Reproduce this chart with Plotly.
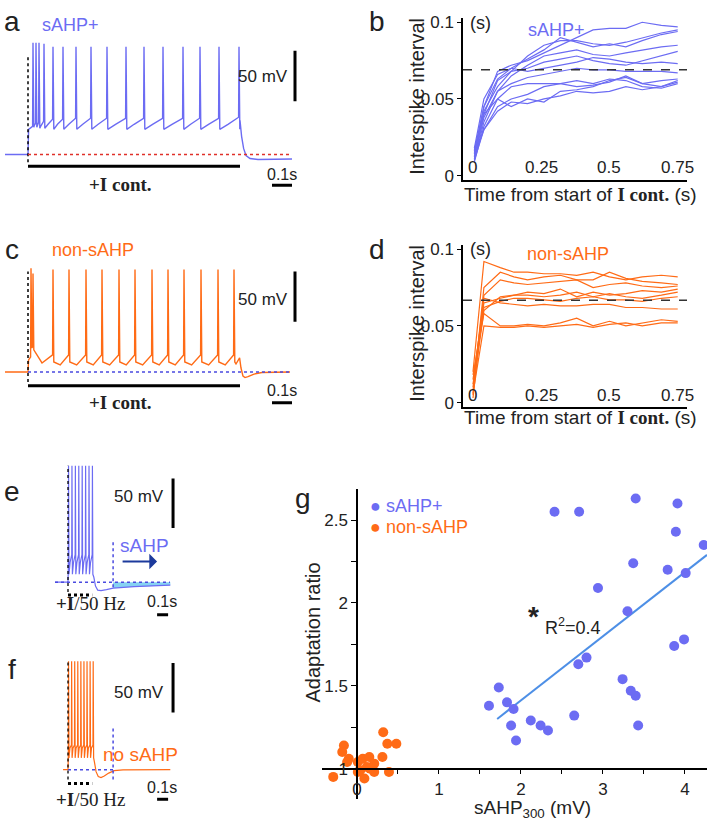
import plotly.graph_objects as go

W, H = 710, 825
BLUE = "#6c6cf3"
ORANGE = "#ff6b16"
CYAN = "#86d2f2"
DARKBLUE = "#1c3a9c"
FITBLUE = "#4d8fe6"
TXT = "#222222"
SANS = "Liberation Sans, Arial, sans-serif"
SERIF = "Liberation Serif, Times New Roman, serif"

# ---------------- data ----------------
# panel a (sAHP+ voltage trace), time in s, voltage in mV
a_rest = -70
a_on_v = -45
a_pre_t = -0.115
a_spk_t = [0.025, 0.04, 0.055, 0.08, 0.125, 0.175, 0.24, 0.315, 0.395, 0.49, 0.58, 0.675, 0.775, 0.86, 0.955, 1.055]
a_peak = [41, 41, 41, 40, 37, 37, 37, 37, 37, 37, 37, 37, 37, 37, 37, 37]
a_thr = [-42, -39, -38, -37, -35, -35, -34, -34, -34, -34, -34, -34, -34, -34, -34, -33]
a_ahp = [-43, -43, -44, -44, -45, -45, -45, -45, -45, -45, -45, -45, -45, -45, -45, -45]
a_mid = [-41, -41, -41, -40, -40, -40, -40, -40, -40, -40, -40, -40, -40, -40, -40]
a_tail_t = [1.06, 1.068, 1.078, 1.09, 1.11, 1.15, 1.32]
a_tail_v = [-36, -52, -64, -71, -74, -75, -74.5]

# panel c (non-sAHP voltage trace)
c_rest = -70
c_on_v = -58
c_pre_t = -0.115
c_spk_t = [0.015, 0.025, 0.125, 0.205, 0.29, 0.37, 0.455, 0.535, 0.62, 0.70, 0.78, 0.865, 0.95, 1.03]
c_peak = [33, 28, 32, 32, 32, 32, 32, 32, 32, 32, 32, 32, 32, 32]
c_thr = [-55, -45, -53, -53, -53, -53, -53, -53, -53, -53, -53, -53, -53, -53]
c_ahp = [-45, -48, -60, -60, -60, -60, -60, -60, -60, -60, -60, -60, -60, -60]
c_mid = [-46, -61, -63, -63, -63, -63, -63, -63, -63, -63, -63, -63, -63]
c_tail_t = [1.04, 1.058, 1.065, 1.075, 1.085, 1.1, 1.13, 1.17, 1.31]
c_tail_v = [-62, -56, -66, -74, -75.5, -74.5, -72, -70.5, -70]

# panel e (sAHP+, 50 Hz train)
e_rest = -70
e_on_v = -55
e_pre_t = -0.118
e_spk_t = [0.005, 0.036, 0.067, 0.098, 0.129, 0.16, 0.191, 0.222]
e_peak = [48, 48, 48, 48, 48, 48, 48, 48]
e_thr = [-50, -42, -42, -42, -42, -42, -42, -42]
e_ahp = [-62, -62, -62, -62, -62, -62, -62, -62]
e_mid = [-50, -50, -50, -50, -50, -50, -50]
e_tail_t = [0.235, 0.25, 0.27, 0.3, 0.35, 0.41, 0.6, 0.93]
e_tail_v = [-65, -74, -78, -78.5, -77.5, -76, -74.5, -73]
e_sahp_t = [0.41, 0.6, 0.93]
e_sahp_v = [-76, -74.5, -73]

# panel f (non-sAHP, 50 Hz train)
f_rest = -70
f_on_v = -55
f_pre_t = -0.045
f_spk_t = [0.005, 0.033, 0.061, 0.089, 0.117, 0.145, 0.173, 0.201, 0.229]
f_peak = [40, 40, 40, 40, 40, 40, 40, 40, 40]
f_thr = [-52, -45, -45, -45, -45, -45, -45, -45, -45]
f_ahp = [-58, -58, -58, -58, -58, -58, -58, -58, -58]
f_mid = [-48, -48, -48, -48, -48, -48, -48, -48]
f_tail_t = [0.24, 0.255, 0.275, 0.3, 0.33, 0.37, 0.42, 0.5, 0.93]
f_tail_v = [-62, -72, -77, -78, -76.5, -73.5, -71, -70.2, -70]

# panel b (ISI vs time, sAHP+)
b_t = [0.005, 0.04, 0.09, 0.14, 0.2, 0.26, 0.32, 0.38, 0.44, 0.5, 0.56, 0.62, 0.69, 0.75]
b_isi = [
    [0.015, 0.045, 0.068, 0.072, 0.075, 0.080, 0.085, 0.090, 0.095, 0.096, 0.096, 0.100, 0.098, 0.097],
    [0.012, 0.040, 0.062, 0.068, 0.078, 0.085, 0.088, 0.088, 0.086, 0.085, 0.087, 0.090, 0.093, 0.095],
    [0.018, 0.050, 0.066, 0.070, 0.076, 0.082, 0.090, 0.087, 0.084, 0.086, 0.084, 0.088, 0.092, 0.094],
    [0.010, 0.035, 0.055, 0.065, 0.072, 0.078, 0.080, 0.082, 0.079, 0.078, 0.080, 0.082, 0.084, 0.085],
    [0.014, 0.042, 0.058, 0.068, 0.070, 0.074, 0.076, 0.078, 0.075, 0.073, 0.072, 0.075, 0.078, 0.081],
    [0.016, 0.045, 0.063, 0.070, 0.068, 0.070, 0.072, 0.074, 0.077, 0.076, 0.074, 0.073, 0.074, 0.073],
    [0.011, 0.038, 0.055, 0.060, 0.064, 0.066, 0.068, 0.070, 0.069, 0.069, 0.068, 0.068, 0.068, 0.067],
    [0.009, 0.032, 0.050, 0.058, 0.060, 0.060, 0.060, 0.058, 0.059, 0.061, 0.065, 0.060, 0.058, 0.061],
    [0.013, 0.030, 0.045, 0.050, 0.053, 0.058, 0.060, 0.062, 0.060, 0.063, 0.062, 0.058, 0.057, 0.060],
    [0.010, 0.030, 0.042, 0.048, 0.047, 0.050, 0.052, 0.055, 0.054, 0.055, 0.058, 0.056, 0.058, 0.062],
    [0.017, 0.040, 0.050, 0.045, 0.050, 0.048, 0.055, 0.056, 0.058, 0.062, 0.064, 0.060, 0.062, 0.063],
]
b_ref = 0.069

# panel d (ISI vs time, non-sAHP)
d_t = [0.0, 0.04, 0.1, 0.15, 0.2, 0.26, 0.32, 0.38, 0.44, 0.5, 0.56, 0.62, 0.69, 0.75]
d_isi = [
    [0.020, 0.092, 0.088, 0.085, 0.085, 0.084, 0.084, 0.083, 0.085, 0.082, 0.080, 0.082, 0.083, 0.082],
    [0.005, 0.075, 0.085, 0.082, 0.080, 0.082, 0.083, 0.080, 0.080, 0.085, 0.081, 0.079, 0.078, 0.077],
    [0.010, 0.070, 0.080, 0.078, 0.077, 0.078, 0.079, 0.080, 0.075, 0.077, 0.078, 0.076, 0.075, 0.076],
    [0.015, 0.065, 0.068, 0.070, 0.072, 0.071, 0.074, 0.069, 0.072, 0.070, 0.071, 0.073, 0.072, 0.074],
    [0.008, 0.060, 0.069, 0.070, 0.070, 0.069, 0.070, 0.072, 0.069, 0.071, 0.069, 0.068, 0.070, 0.072],
    [0.012, 0.062, 0.066, 0.068, 0.068, 0.067, 0.066, 0.068, 0.069, 0.067, 0.067, 0.066, 0.068, 0.069],
    [0.003, 0.068, 0.065, 0.064, 0.063, 0.064, 0.063, 0.063, 0.064, 0.064, 0.062, 0.062, 0.061, 0.061],
    [0.018, 0.058, 0.050, 0.050, 0.051, 0.050, 0.052, 0.055, 0.050, 0.053, 0.050, 0.052, 0.054, 0.053],
    [0.006, 0.050, 0.049, 0.049, 0.050, 0.049, 0.050, 0.051, 0.049, 0.051, 0.052, 0.050, 0.052, 0.052],
]
d_ref = 0.0667

# panel g (adaptation ratio vs sAHP300)
g_pos_x = [2.41, 2.71, 3.40, 3.91, 3.89, 4.23, 3.37, 3.79, 4.01, 2.94, 3.30,
           3.87, 3.99, 2.80, 2.70, 3.24, 3.34, 3.40, 3.43, 2.65,
           1.73, 1.61, 1.83, 1.91, 1.88, 1.94, 2.12, 2.24, 2.33]
g_pos_y = [2.55, 2.55, 2.63, 2.60, 2.43, 2.35, 2.24, 2.20, 2.18, 2.09, 1.95,
           1.74, 1.78, 1.67, 1.63, 1.54, 1.47, 1.44, 1.26, 1.32,
           1.49, 1.38, 1.40, 1.36, 1.26, 1.17, 1.29, 1.26, 1.23]
g_non_x = [-0.29, -0.16, -0.18, -0.10, -0.12, 0.01, 0.07, 0.15, 0.21, 0.04,
           0.12, 0.09, 0.21, 0.32, 0.31, 0.37, 0.48, 0.39, 0.16, 0.01]
g_non_y = [0.95, 1.14, 1.10, 1.06, 1.04, 1.04, 1.06, 1.07, 1.03, 0.99,
           1.01, 0.94, 0.98, 1.22, 1.07, 1.15, 1.15, 0.98, 1.00, 0.98]
g_fit_x = [1.71, 4.27]
g_fit_y = [1.30, 2.29]
isi_ticks = [0, 0.05, 0.1]
isi_ticktext = ["0", "0.05", "0.1"]
time_ticks = [0, 0.25, 0.5, 0.75]
time_ticktext = ["0", "0.25", "0.5", "0.75"]


def build_train(pre_t, rest, on_v, spikes, peaks, thr, ahp, mid, tail_t, tail_v):
    ts = [pre_t, 0.0, 0.003]
    vs = [rest, rest, on_v]
    for i, s in enumerate(spikes):
        ts += [s - 0.002, s, s + 0.004]
        vs += [thr[i], peaks[i], ahp[i]]
        if i < len(spikes) - 1:
            ts.append(s + 0.45 * (spikes[i + 1] - s))
            vs.append(mid[i])
    return ts + tail_t, vs + tail_v


fig = go.Figure()


def pxx(x):
    return x / W


def pyy(y):
    return 1 - y / H


def trace_axes(n, px0, px1, py0, py1, x0_px, xscale, y0_py, yscale, v0):
    xa = dict(domain=[px0 / W, px1 / W],
              range=[(px0 - x0_px) / xscale, (px1 - x0_px) / xscale],
              visible=False, anchor="y" + n if n else "y", fixedrange=True)
    ya = dict(domain=[1 - py1 / H, 1 - py0 / H],
              range=[v0 - (py1 - y0_py) / yscale, v0 + (y0_py - py0) / yscale],
              visible=False, anchor="x" + n if n else "x", fixedrange=True)
    return xa, ya


def ref(n):
    return ("x" + n, "y" + n) if n else ("x", "y")


def line(n, x0, y0, x1, y1, color, width, dash="solid"):
    xr, yr = ref(n)
    fig.add_shape(type="line", xref=xr, yref=yr, x0=x0, y0=y0, x1=x1, y1=y1,
                  line=dict(color=color, width=width, dash=dash))


def ann(text, x, y, size, color=TXT, xanchor="center", family=SANS, angle=0):
    fig.add_annotation(text=text, x=pxx(x), y=pyy(y), xref="paper", yref="paper",
                       showarrow=False, font=dict(size=size, color=color, family=family),
                       xanchor=xanchor, yanchor="middle", textangle=angle)


layout_axes = {}

# ---- panel a ----
xa, ya = trace_axes("", 0, 300, 15, 195, 28, 200, 151.5, 1.02, -70)
layout_axes["xaxis"], layout_axes["yaxis"] = xa, ya
ta, va = build_train(a_pre_t, a_rest, a_on_v, a_spk_t, a_peak, a_thr, a_ahp, a_mid, a_tail_t, a_tail_v)
line("", 0, -77.8, 0, 28, "black", 1.5, "dot")
line("", 0, -70, 1.32, -70, "#e0302a", 1.5, "dot")
fig.add_trace(go.Scatter(x=ta, y=va, mode="lines", line=dict(color=BLUE, width=1.4),
                         xaxis="x", yaxis="y", hoverinfo="skip"))
line("", 0, -81.8, 1.06, -81.8, "black", 3)
line("", 1.335, -17, 1.335, 33, "black", 3)
line("", 1.22, -100.5, 1.32, -100.5, "black", 3)

# ---- panel c ----
xa, ya = trace_axes("3", 0, 300, 235, 415, 28, 200, 372, 1.02, -70)
layout_axes["xaxis3"], layout_axes["yaxis3"] = xa, ya
tc, vc = build_train(c_pre_t, c_rest, c_on_v, c_spk_t, c_peak, c_thr, c_ahp, c_mid, c_tail_t, c_tail_v)
line("3", 0, -80, 0, 30, "black", 1.5, "dot")
line("3", 0, -70, 1.31, -70, "#4a4ae0", 1.5, "dot")
fig.add_trace(go.Scatter(x=tc, y=vc, mode="lines", line=dict(color=ORANGE, width=1.4),
                         xaxis="x3", yaxis="y3", hoverinfo="skip"))
line("3", 0, -83.5, 1.06, -83.5, "black", 3)
line("3", 1.335, -20, 1.335, 30, "black", 3)
line("3", 1.22, -100.5, 1.32, -100.5, "black", 3)

# ---- panel e ----
xa, ya = trace_axes("5", 40, 180, 445, 625, 68, 110, 585, 1.0, -70)
layout_axes["xaxis5"], layout_axes["yaxis5"] = xa, ya
te, ve = build_train(e_pre_t, e_rest, e_on_v, e_spk_t, e_peak, e_thr, e_ahp, e_mid, e_tail_t, e_tail_v)
fig.add_trace(go.Scatter(x=e_sahp_t + e_sahp_t[::-1], y=e_sahp_v + [e_rest] * len(e_sahp_t),
                         mode="lines", fill="toself", fillcolor=CYAN, line=dict(width=0),
                         xaxis="x5", yaxis="y5", hoverinfo="skip"))
line("5", 0, -80, 0, 48, "black", 1.3, "dot")
line("5", e_pre_t, -70, 0.927, -70, "#4a4ae0", 1.5, "dot")
line("5", 0.41, -75, 0.41, -27, "#4a4ae0", 1.5, "dot")
fig.add_trace(go.Scatter(x=te, y=ve, mode="lines", line=dict(color=BLUE, width=1.2),
                         xaxis="x5", yaxis="y5", hoverinfo="skip"))
line("5", 0, -83, 0.22, -83, "black", 3, "dot")
line("5", 0.955, -15, 0.955, 35, "black", 3)
line("5", 0.81, -103, 0.91, -103, "black", 3)
fig.add_annotation(x=0.81, y=-49, xref="x5", yref="y5", ax=-36, ay=0, text="",
                   showarrow=True, arrowhead=1, arrowsize=1.3, arrowwidth=2, arrowcolor=DARKBLUE)

# ---- panel f ----
xa, ya = trace_axes("6", 40, 180, 640, 820, 68, 110, 775, 1.0, -70)
layout_axes["xaxis6"], layout_axes["yaxis6"] = xa, ya
tf, vf = build_train(f_pre_t, f_rest, f_on_v, f_spk_t, f_peak, f_thr, f_ahp, f_mid, f_tail_t, f_tail_v)
line("6", 0, -80, 0, 40, "black", 1.3, "dot")
line("6", 0, -70, 0.41, -70, "#4a4ae0", 1.5, "dot")
line("6", 0.41, -80, 0.41, -27, "#4a4ae0", 1.5, "dot")
fig.add_trace(go.Scatter(x=tf, y=vf, mode="lines", line=dict(color=ORANGE, width=1.2),
                         xaxis="x6", yaxis="y6", hoverinfo="skip"))
line("6", 0, -84, 0.22, -84, "black", 3, "dot")
line("6", 0.955, -12, 0.955, 38, "black", 3)
line("6", 0.81, -100, 0.91, -100, "black", 3)

# ---- panels b and d ----
def isi_axes(n, py_top, py_bot):
    xa = dict(domain=[463 / W, 687 / W], range=[-0.0366, 0.784], anchor="y" + n,
              showline=True, linecolor="black", linewidth=1.5, showgrid=False, zeroline=False,
              ticks="", showticklabels=False, fixedrange=True)
    ya = dict(domain=[1 - py_bot / H, 1 - py_top / H],
              range=[-0.0026, (py_bot - 4 - py_top) / 1555], anchor="x" + n,
              showline=True, linecolor="black", linewidth=1.5, showgrid=False, zeroline=False,
              ticks="outside", ticklen=4, tickcolor="black", tickvals=isi_ticks, ticktext=isi_ticktext,
              tickfont=dict(size=17, color=TXT, family=SANS), fixedrange=True)
    return xa, ya


layout_axes["xaxis2"], layout_axes["yaxis2"] = isi_axes("2", 13, 177)
layout_axes["xaxis4"], layout_axes["yaxis4"] = isi_axes("4", 243, 407)

for xr, ylab in (("x2", 165), ("x4", 396)):
    for tv, tt in zip(time_ticks, time_ticktext):
        fig.add_annotation(x=tv, y=pyy(ylab), xref=xr, yref="paper", text=tt, showarrow=False,
                           xanchor="center", yanchor="middle",
                           font=dict(size=17, color=TXT, family=SANS))

for ys in b_isi:
    fig.add_trace(go.Scatter(x=b_t, y=ys, mode="lines", line=dict(color=BLUE, width=1.2),
                             xaxis="x2", yaxis="y2", hoverinfo="skip"))
for ys in d_isi:
    fig.add_trace(go.Scatter(x=d_t, y=ys, mode="lines", line=dict(color=ORANGE, width=1.2),
                             xaxis="x4", yaxis="y4", hoverinfo="skip"))
fig.add_shape(type="line", xref="x2 domain", yref="y2", x0=0, x1=1, y0=b_ref, y1=b_ref,
              line=dict(color="#333", width=1.5, dash="dash"))
fig.add_shape(type="line", xref="x4 domain", yref="y4", x0=0, x1=1, y0=d_ref, y1=d_ref,
              line=dict(color="#333", width=1.5, dash="dash"))

# ---- panel g ----
layout_axes["xaxis7"] = dict(domain=[322 / W, 707 / W], range=[-0.427, 4.27], anchor="free",
                             position=1 - 774 / H, showline=True, linecolor="black", linewidth=1.5,
                             showgrid=False, zeroline=False, ticks="outside", ticklen=5,
                             tickcolor="black", tickmode="linear", tick0=0, dtick=1,
                             minor=dict(ticks="outside", ticklen=5, dtick=0.5, tick0=0, tickcolor="black"),
                             tickfont=dict(size=17, color=TXT, family=SANS), fixedrange=True)
layout_axes["yaxis7"] = dict(domain=[1 - 805 / H, 1 - 491 / H], range=[0.815, 2.685], anchor="free",
                             position=357 / W, showline=True, linecolor="black", linewidth=1.5,
                             showgrid=False, zeroline=False, ticks="outside", ticklen=5,
                             tickcolor="black", tickmode="linear", tick0=1, dtick=0.5,
                             minor=dict(ticks="outside", ticklen=5, dtick=0.25, tick0=1, tickcolor="black"),
                             tickfont=dict(size=17, color=TXT, family=SANS), fixedrange=True)
fig.add_trace(go.Scatter(x=g_fit_x, y=g_fit_y, mode="lines", line=dict(color=FITBLUE, width=2),
                         xaxis="x7", yaxis="y7", hoverinfo="skip"))
fig.add_trace(go.Scatter(x=g_pos_x, y=g_pos_y, mode="markers", marker=dict(color=BLUE, size=10),
                         xaxis="x7", yaxis="y7", name="sAHP+"))
fig.add_trace(go.Scatter(x=g_non_x, y=g_non_y, mode="markers", marker=dict(color=ORANGE, size=10),
                         xaxis="x7", yaxis="y7", name="non-sAHP"))

# ---------------- text ----------------
# panel letters
ann("a", 12, 17, 28)
ann("b", 377, 17, 28)
ann("c", 12, 248, 28)
ann("d", 377, 248, 28)
ann("e", 12, 493, 28)
ann("f", 12, 673, 28)
ann("g", 303, 500, 28)

# a
ann("sAHP+", 70, 20, 18, BLUE)
ann("50 mV", 290, 72, 17, xanchor="right")
ann("0.1s", 282, 172, 16)
ann("<b>+I cont.</b>", 120, 182, 19, family=SERIF)
# c
ann("non-sAHP", 93, 248, 18, ORANGE)
ann("50 mV", 290, 298, 17, xanchor="right")
ann("0.1s", 282, 391, 16)
ann("<b>+I cont.</b>", 120, 403, 19, family=SERIF)
# b
ann("(s)", 480, 18, 18)
ann("sAHP+", 556, 25, 18, BLUE)
ann("Interspike interval", 417, 93, 20, angle=-90)
ann("Time from start of <span style='font-family:Liberation Serif'><b>I cont.</b></span> (s)", 580, 192, 19)
# d
ann("(s)", 480, 247, 18)
ann("non-sAHP", 568, 252, 18, ORANGE)
ann("Interspike interval", 417, 323, 20, angle=-90)
ann("Time from start of <span style='font-family:Liberation Serif'><b>I cont.</b></span> (s)", 580, 418, 19)
# e
ann("50 mV", 166, 498, 17, xanchor="right")
ann("sAHP", 144, 548, 19, BLUE)
ann("<b>+I</b>/50 Hz", 90, 607, 19, family=SERIF)
ann("0.1s", 162, 605, 16)
# f
ann("50 mV", 166, 697, 17, xanchor="right")
ann("no sAHP", 140, 760, 19, ORANGE)
ann("<b>+I</b>/50 Hz", 90, 805, 19, family=SERIF)
ann("0.1s", 162, 793, 16)
# g
ann("<span style='color:%s'>●</span> <span style='color:%s'>sAHP+</span>" % (BLUE, BLUE), 368, 508, 18, xanchor="left")
ann("<span style='color:%s'>●</span> <span style='color:%s'>non-sAHP</span>" % (ORANGE, ORANGE), 368, 529, 18, xanchor="left")
ann("<b>*</b>", 533, 620, 28)
ann("R<sup>2</sup>=0.4", 543, 630, 18, xanchor="left")
ann("Adaptation ratio", 313, 636, 20, angle=-90)
ann("sAHP<sub>300</sub> (mV)", 532, 815, 19)

fig.update_layout(width=W, height=H, margin=dict(l=0, r=0, t=0, b=0),
                  paper_bgcolor="white", plot_bgcolor="white", showlegend=False,
                  font=dict(family=SANS, color=TXT), **layout_axes)

fig.write_html("out.html", config={"displayModeBar": False},
               post_script="document.body.style.margin='0px';document.body.style.overflow='hidden';")
